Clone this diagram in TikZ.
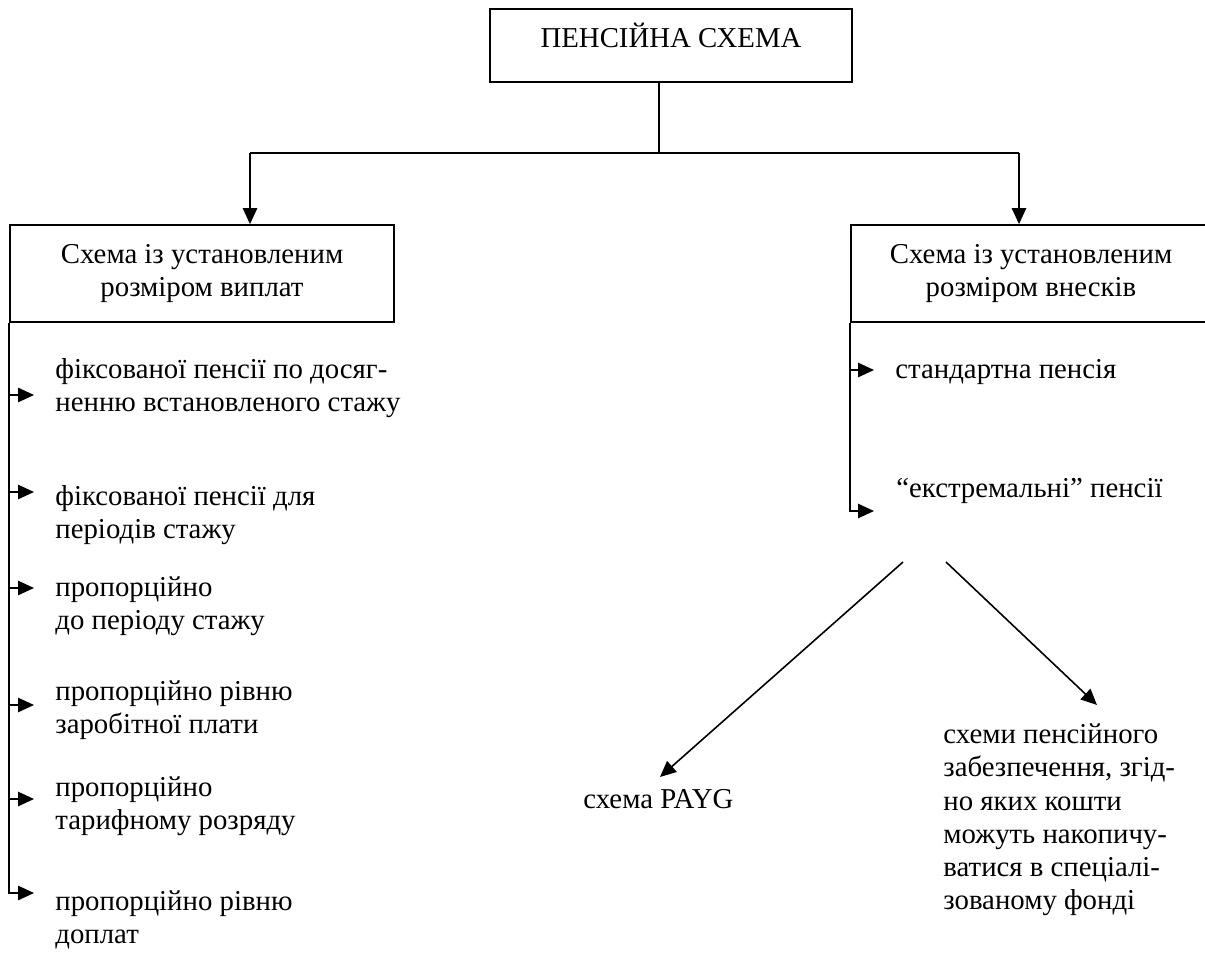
\documentclass[tikz,border=0pt]{standalone}
\usepackage{fontspec}
\setmainfont{Liberation Serif}
\usetikzlibrary{arrows.meta}
\begin{document}
\begin{tikzpicture}[x=0.5pt,y=-0.5pt,
  every node/.style={font=\fontsize{14.4pt}{16.6pt}\selectfont, inner sep=0pt},
  box/.style={draw, line width=0.9pt, align=center},
  item/.style={anchor=west, align=left},
  conn/.style={line width=0.8pt, -{Triangle[length=8pt,width=7.2pt]}},
  plain/.style={line width=0.8pt}]
\useasboundingbox (0,0) rectangle (1205,974);

% boxes
\node[box, minimum width=181pt, minimum height=36.5pt] (top) at (671,45.5)
  {\raisebox{-1.2pt}[0pt][0pt]{ПЕНСІЙНА СХЕМА}};
\node[box, minimum width=192pt, minimum height=48.5pt] (dbox) at (202,273.5)
  {Схема із установленим\\розміром виплат};
\node[box, minimum width=180pt, minimum height=48.5pt] (cbox) at (1031,273.5)
  {Схема із установленим\\розміром внесків};

% top connectors
\coordinate (j) at (659,153);
\coordinate (jl) at (250,153);
\coordinate (jr) at (1019,153);
\draw[plain] (j |- top.south) -- (j);
\draw[plain] (jl) -- (jr);
\draw[conn] (jl) -- (jl |- dbox.north);
\draw[conn] (jr) -- (jr |- cbox.north);

% left items
\node[item] (d1) at (55,388) {фіксованої пенсії по досяг-\\ненню встановленого стажу};
\node[item] (d2) at (55,515) {фіксованої пенсії для\\періодів стажу};
\node[item] (d3) at (55,606) {пропорційно\\до періоду стажу};
\node[item] (d4) at (55,710) {пропорційно рівню\\заробітної плати};
\node[item] (d5) at (55,806) {пропорційно\\тарифному розряду};
\node[item] (d6) at (55,920) {пропорційно рівню\\доплат};

\coordinate (a1) at (34,395);
\coordinate (a2) at (34,492);
\coordinate (a3) at (34,588);
\coordinate (a4) at (34,705);
\coordinate (a5) at (34,799);
\coordinate (a6) at (34,893);
\draw[conn] (dbox.south west) |- (a6);
\foreach \i in {1,...,5} \draw[conn] (dbox.south west |- a\i) -- (a\i);

% right items
\node[item] (c1) at (895,372) {стандартна пенсія};
\node[item] (c2) at (896,491) {“екстремальні” пенсії};
\coordinate (b1) at (874,370);
\coordinate (b2) at (874,511);
\draw[conn] (cbox.south west) |- (b2);
\draw[conn] (cbox.south west |- b1) -- (b1);

% diagonal branches
\node[item] (payg) at (583,799) {схема PAYG};
\node[item] (fund) at (943,820) {схеми пенсійного\\забезпечення, згід-\\но яких кошти\\можуть накопичу-\\ватися в спеціалі-\\зованому фонді};
\coordinate (s1) at (903,562);
\coordinate (s2) at (946,562);
\coordinate (t1) at (660,777);
\coordinate (t2) at (1097,705);
\draw[conn] (s1) -- (t1);
\draw[conn] (s2) -- (t2);
\end{tikzpicture}
\end{document}
